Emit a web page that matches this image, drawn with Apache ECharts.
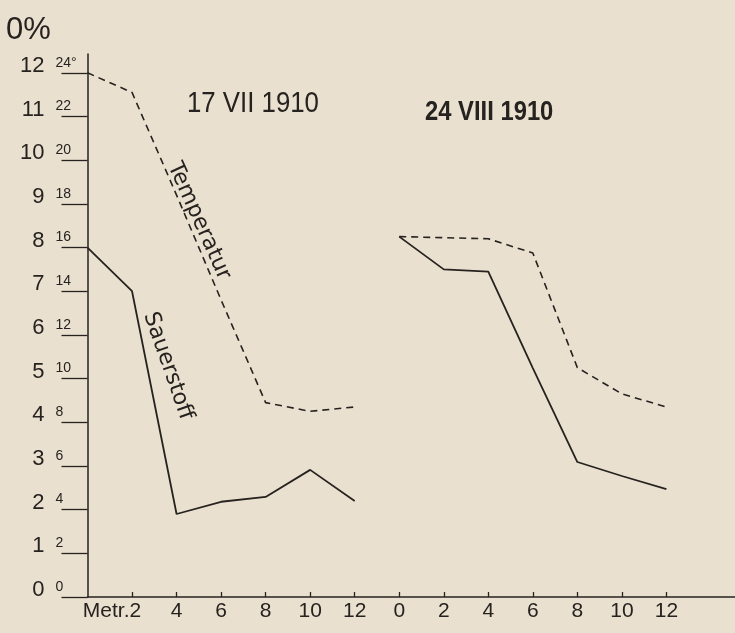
<!DOCTYPE html>
<html>
<head>
<meta charset="utf-8">
<script src="https://cdn.jsdelivr.net/npm/echarts@6/dist/echarts.min.js"></script>
<style>
  html, body { margin: 0; padding: 0; background: #eae0cf; }
  #chart { width: 735px; height: 633px; }
</style>
</head>
<body>
<div id="chart"></div>
<script>
// depth in metres, same for both dates
const depths = [0, 2, 4, 6, 8, 10, 12]

// 17 VII 1910
const oxygenJul = [8.0, 7.0, 1.9, 2.18, 2.29, 2.91, 2.2]
const tempJul = [24.0, 23.1, 18.4, 13.6, 8.9, 8.5, 8.7]

// 24 VIII 1910
const oxygenAug = [8.25, 7.5, 7.45, 5.24, 3.09, 2.77, 2.47]
const tempAug = [16.5, 16.45, 16.4, 15.75, 10.5, 9.3, 8.7]

// tick labels
const depthLabels = ['', '2', '4', '6', '8', '10', '12', '0', '2', '4', '6', '8', '10', '12']
const oxygenTicks = [0, 1, 2, 3, 4, 5, 6, 7, 8, 9, 10, 11, 12]
const tempTicks = [0, 2, 4, 6, 8, 10, 12, 14, 16, 18, 20, 22, 24]
const tempTickLabels = ['0', '2', '4', '6', '8', '10', '12', '14', '16', '18', '20', '22', '24°']

const INK = '#26221f'
const NARROW = '"Liberation Sans Narrow", "Liberation Sans", sans-serif'
const AUG_OFFSET = 7 // second panel starts at slot 7 of the depth axis

const toPoints = (vals, offset) => depths.map((d, i) => [offset + d / 2, vals[i]])

const solid = { color: INK, width: 1.8, type: 'solid' }
const dashed = { color: INK, width: 1.6, type: [7, 5] }

function line(name, data, yAxisIndex, style) {
  return {
    name,
    type: 'line',
    data,
    yAxisIndex,
    showSymbol: false,
    symbol: 'none',
    lineStyle: style,
    itemStyle: { color: INK },
    emphasis: { disabled: true },
    animation: false
  }
}

const chart = echarts.init(document.getElementById('chart'), null, { renderer: 'canvas' })

chart.setOption({
  backgroundColor: '#eae0cf',
  animation: false,
  grid: { left: 87.5, right: 0, top: 54, bottom: 36, containLabel: false },
  xAxis: {
    type: 'value',
    min: 0,
    max: 14.54,
    interval: 1,
    axisLine: { show: true, lineStyle: { color: INK, width: 1.5 } },
    axisTick: {
      show: true,
      inside: true,
      length: 5,
      customValues: [1, 2, 3, 4, 5, 6, 7, 8, 9, 10, 11, 12, 13],
      lineStyle: { color: INK, width: 1.3 }
    },
    splitLine: { show: false },
    axisLabel: {
      margin: 4,
      color: INK,
      fontFamily: NARROW,
      fontSize: 21,
      customValues: [1, 2, 3, 4, 5, 6, 7, 8, 9, 10, 11, 12, 13],
      formatter: (v) => {
        const label = depthLabels[Math.round(v)]
        if (Math.round(v) === 1) return '{m|Metr.}{d|' + label + '}{p|}'
        return label
      },
      rich: {
        m: { fontFamily: NARROW, fontSize: 21, color: INK },
        d: { fontFamily: NARROW, fontSize: 21, color: INK },
        p: { width: 40 }
      }
    }
  },
  yAxis: [
    {
      type: 'value',
      position: 'left',
      min: 0,
      max: 12.43,
      interval: 1,
      axisLine: { show: true, lineStyle: { color: INK, width: 1.5 } },
      axisTick: {
        show: true,
        length: 26,
        customValues: oxygenTicks,
        lineStyle: { color: INK, width: 1.3 }
      },
      splitLine: { show: false },
      axisLabel: {
        margin: 43,
        color: INK,
        fontFamily: NARROW,
        fontSize: 22,
        verticalAlign: 'bottom',
        lineHeight: 14,
        customValues: oxygenTicks,
        formatter: (v) => String(v)
      }
    },
    {
      type: 'value',
      position: 'left',
      min: 0,
      max: 24.86,
      interval: 2,
      axisLine: { show: false },
      axisTick: { show: false },
      splitLine: { show: false },
      axisLabel: {
        margin: 32,
        align: 'left',
        verticalAlign: 'bottom',
        padding: [0, 0, 3, 0],
        color: INK,
        fontFamily: NARROW,
        fontSize: 14,
        customValues: tempTicks,
        formatter: (v) => tempTickLabels[tempTicks.indexOf(v)]
      }
    }
  ],
  graphic: [
    {
      type: 'text', left: 6, top: 15,
      style: { text: '0%', fill: INK, font: '31px ' + NARROW }
    },
    {
      type: 'text', x: 187, y: 104, scaleX: 0.86,
      style: { text: '17 VII 1910', fill: INK, font: '30px ' + NARROW, verticalAlign: 'middle' }
    },
    {
      type: 'text', x: 425, y: 112, scaleX: 0.85,
      style: { text: '24 VIII 1910', fill: INK, font: 'bold 28px ' + NARROW, verticalAlign: 'middle' }
    },
    {
      type: 'text', x: 199, y: 221, rotation: -65.9 * Math.PI / 180,
      style: { text: 'Temperatur', fill: INK, font: '22px "DejaVu Sans", sans-serif', align: 'center', verticalAlign: 'middle' }
    },
    {
      type: 'text', x: 168, y: 366, rotation: -70.6 * Math.PI / 180,
      style: { text: 'Sauerstoff', fill: INK, font: '22px "DejaVu Sans", sans-serif', align: 'center', verticalAlign: 'middle' }
    }
  ],
  series: [
    line('Temperatur 17 VII 1910', toPoints(tempJul, 0), 1, dashed),
    line('Sauerstoff 17 VII 1910', toPoints(oxygenJul, 0), 0, solid),
    line('Temperatur 24 VIII 1910', toPoints(tempAug, AUG_OFFSET), 1, dashed),
    line('Sauerstoff 24 VIII 1910', toPoints(oxygenAug, AUG_OFFSET), 0, solid)
  ]
})
</script>
</body>
</html>
